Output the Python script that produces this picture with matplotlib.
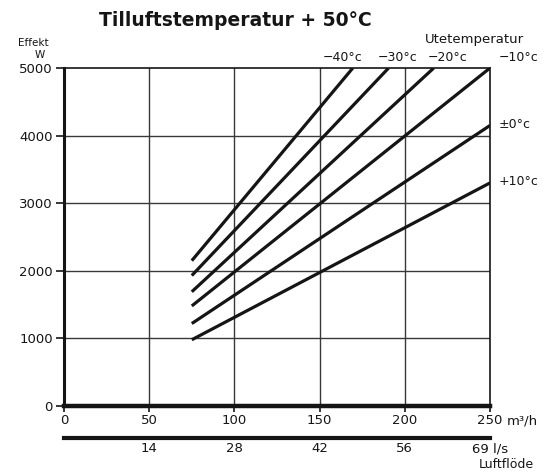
import matplotlib
matplotlib.use("Agg")
import matplotlib.pyplot as plt
from matplotlib.ticker import FixedLocator

# ---- data ----
temps = ['−40°c', '−30°c', '−20°c', '−10°c', '±0°c', '+10°c']
start_q = [75, 75, 75, 75, 75, 75]             # m3/h
start_w = [2150, 1930, 1690, 1480, 1220, 980]  # W
end_q = [169.5, 190.5, 217, 250, 250, 250]
end_w = [5000, 5000, 5000, 5000, 4150, 3300]

x_ticks = [0, 50, 100, 150, 200, 250]
x_ticklabels = ['0', '50', '100', '150', '200', '250']
y_ticks = [0, 1000, 2000, 3000, 4000, 5000]
y_ticklabels = ['0', '1000', '2000', '3000', '4000', '5000']
ls_ticks_m3h = [50, 100, 150, 200, 250]
ls_ticklabels = ['14', '28', '42', '56', '69 l/s']

# label offsets (pixels) for curve labels
label_dx = [-10, 9, 14, 9, 9, 9]

INK = '#151515'
plt.rcParams['font.family'] = ['DejaVu Sans']

fig = plt.figure(figsize=(5.45, 4.72), dpi=100)
W, H = 545, 472
left_px, right_px, top_px, bot_px = 64, 490, 68, 406
ax = fig.add_axes([left_px / W, 1 - bot_px / H, (right_px - left_px) / W, (bot_px - top_px) / H])
ax.set_xlim(0, 250)
ax.set_ylim(0, 5000)
px2pt = 72 / 100

# grid
for yv in y_ticks[1:-1]:
    ax.axhline(yv, color='#383838', lw=1.0, zorder=1)
for xv in x_ticks[1:-1]:
    ax.axvline(xv, color='#383838', lw=1.0, zorder=1)

# lines
for t, q0, w0, q1, w1, dx in zip(temps, start_q, start_w, end_q, end_w, label_dx):
    ax.plot([q0, q1], [w0, w1], color=INK, lw=2.3, solid_capstyle='butt', zorder=3)
    if w1 >= 5000 and q1 < 250:
        ax.annotate(t, xy=(q1, w1), xytext=(dx * px2pt, 3), textcoords='offset points',
                    ha='center', va='bottom', fontsize=9, color=INK, annotation_clip=False)
    elif w1 >= 5000:
        ax.annotate(t, xy=(q1, w1), xytext=(dx * px2pt, 3), textcoords='offset points',
                    ha='left', va='bottom', fontsize=9, color=INK, annotation_clip=False)
    else:
        ax.annotate(t, xy=(q1, w1), xytext=(dx * px2pt, 1), textcoords='offset points',
                    ha='left', va='center', fontsize=9, color=INK, annotation_clip=False)

# spines
ax.spines['left'].set_linewidth(2.2)
ax.spines['bottom'].set_linewidth(3.2)
ax.spines['top'].set_linewidth(1.2)
ax.spines['right'].set_linewidth(1.2)
for s in ax.spines.values():
    s.set_color(INK)

ax.set_xticks(x_ticks)
ax.set_xticklabels(x_ticklabels)
ax.set_yticks(y_ticks)
ax.set_yticklabels(y_ticklabels)
ax.tick_params(axis='both', colors=INK, labelsize=9.5, width=1.2, length=6)
ax.tick_params(axis='y', pad=2)
ax.tick_params(axis='x', pad=2, length=4)

ax.annotate('m³/h', xy=(250, 0), xycoords='data', xytext=(12, -6),
            textcoords='offset points', ha='left', va='top', fontsize=9.5, color=INK,
            annotation_clip=False)

# secondary axis in l/s
sec = ax.secondary_xaxis(-0.095, functions=(lambda q: q / 3.6, lambda l: l * 3.6))
sec.xaxis.set_major_locator(FixedLocator([q / 3.6 for q in ls_ticks_m3h]))
sec.set_xticklabels(ls_ticklabels)
sec.spines['bottom'].set_linewidth(3.0)
sec.spines['bottom'].set_color(INK)
sec.tick_params(axis='x', colors=INK, labelsize=9.5, length=0, pad=3)
ax.annotate('Luftflöde', xy=(250, 0), xycoords='data', xytext=(12, -59 * px2pt),
            textcoords='offset points', ha='center', va='center', fontsize=9, color=INK,
            annotation_clip=False)

# texts
fig.text(235 / W, 1 - 21 / H, 'Tilluftstemperatur + 50°C', ha='center', va='center',
         fontsize=13.5, fontweight='bold', color=INK)
fig.text(33 / W, 1 - 43 / H, 'Effekt', ha='center', va='center', fontsize=7.5, color=INK)
fig.text(40 / W, 1 - 55 / H, 'W', ha='center', va='center', fontsize=7.5, color=INK)
fig.text(474 / W, 1 - 40 / H, 'Utetemperatur', ha='center', va='center', fontsize=9.5, color=INK)

fig.savefig('out.png', dpi=100, facecolor='white')
